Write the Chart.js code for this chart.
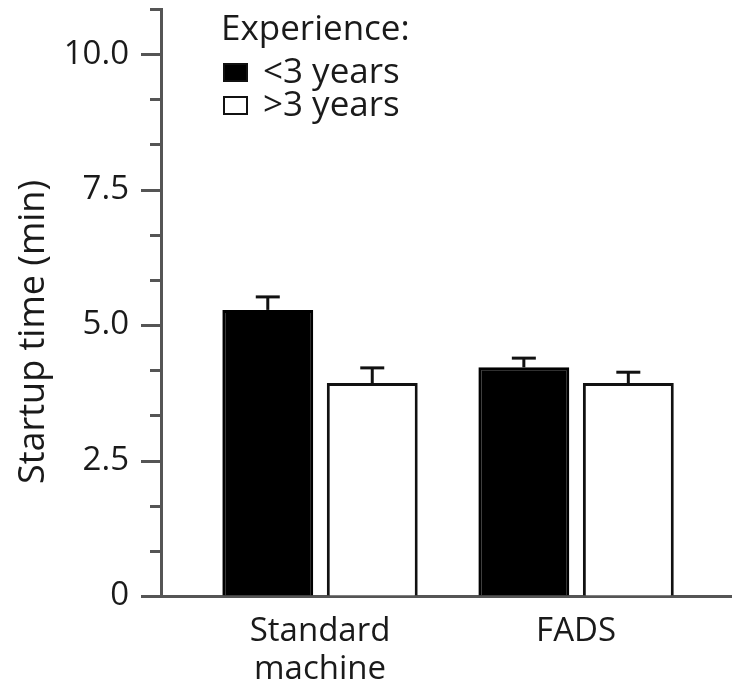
<!DOCTYPE html>
<html>
<head>
<meta charset="utf-8">
<script src="https://cdn.jsdelivr.net/npm/chart.js@4.4.1/dist/chart.umd.min.js"></script>
<style>
  body { margin: 0; background: #fff; }
  #wrap { width: 733px; height: 688px; }
</style>
</head>
<body>
<div id="wrap"><canvas id="myChart"></canvas></div>
<script>
// data
const categories = [["Standard", "machine"], ["FADS"]];
const groupPos = [0, 1];
const seriesNames = ["<3 years", ">3 years"];
const lessThan3 = [5.28, 4.22];
const lessThan3Err = [0.24, 0.17];
const moreThan3 = [3.93, 3.93];
const moreThan3Err = [0.28, 0.2];
const yTickValues = [0, 0.8333, 1.6667, 2.5, 3.3333, 4.1667, 5, 5.8333, 6.6667, 7.5, 8.3333, 9.1667, 10, 10.8333];
const yTickLabels = ["0", "", "", "2.5", "", "", "5.0", "", "", "7.5", "", "", "10.0", ""];
const yTitle = "Startup time (min)";
const legendTitle = "Experience:";

const FONT = "'Open Sans', sans-serif";
const INK = "#1a1a1a";
const AXIS = "#555";

//error bars, axis ticks, y title and legend
const extras = {
  id: "extras",
  afterDatasetsDraw(chart, args, opts) {
    let c = chart.ctx;
    let ys = chart.scales.y;
    let errs = [lessThan3Err, moreThan3Err];
    c.save();
    c.strokeStyle = "#111";
    chart.data.datasets.forEach((ds, di) => {
      let meta = chart.getDatasetMeta(di);
      meta.data.forEach((bar, i) => {
        let top = ys.getPixelForValue(ds.data[i].y + errs[di][i]);
        c.lineWidth = 3;
        c.beginPath();
        c.moveTo(bar.x, bar.y);
        c.lineTo(bar.x, top);
        c.stroke();
        c.beginPath();
        c.moveTo(bar.x - 12, top);
        c.lineTo(bar.x + 12, top);
        c.stroke();
      });
    });
    c.restore();
  },
  afterDraw(chart) {
    let c = chart.ctx;
    let ys = chart.scales.y;
    let left = chart.chartArea.left;
    c.save();
    // y ticks, long on labelled ones
    c.strokeStyle = AXIS;
    c.lineWidth = 3;
    yTickValues.forEach((v, i) => {
      let py = Math.round(ys.getPixelForValue(v)) + 0.5;
      let len = yTickLabels[i] ? 20 : 11;
      c.beginPath();
      c.moveTo(left - len, py);
      c.lineTo(left, py);
      c.stroke();
    });
    // y title
    c.fillStyle = INK;
    c.font = "36px " + FONT;
    c.translate(34, 332);
    c.rotate(-Math.PI / 2);
    c.textAlign = "center";
    c.textBaseline = "middle";
    c.fillText(yTitle, 0, 0);
    c.restore();

    // legend
    c.save();
    c.fillStyle = INK;
    c.font = "35px " + FONT;
    c.textBaseline = "alphabetic";
    c.fillText(legendTitle, 221, 40);
    let rows = [83, 116];
    chart.data.datasets.forEach((ds, di) => {
      let by = rows[di];
      c.fillStyle = ds.backgroundColor;
      c.fillRect(223, by - 20, 25, 19);
      c.strokeStyle = "#111";
      c.lineWidth = 2;
      c.strokeRect(224, by - 19, 23, 17);
      c.fillStyle = INK;
      c.fillText(seriesNames[di], 263, by);
    });
    c.restore();
  },
};

const ctx = document.getElementById("myChart");

new Chart(ctx, {
  type: "bar",
  data: {
    datasets: [
      {
        label: seriesNames[0],
        data: groupPos.map((x, i) => ({ x: x, y: lessThan3[i] })),
        backgroundColor: "#000",
        borderColor: "#000",
        borderWidth: 3,
      },
      {
        label: seriesNames[1],
        data: groupPos.map((x, i) => ({ x: x, y: moreThan3[i] })),
        backgroundColor: "#fff",
        borderColor: "#111",
        borderWidth: 3,
      },
    ],
  },
  options: {
    responsive: true,
    maintainAspectRatio: false,
    animation: false,
    categoryPercentage: 0.816,
    barPercentage: 0.87,
    layout: { padding: { top: 9, right: 2, left: 0, bottom: 0 } },
    plugins: {
      legend: { display: false },
      tooltip: { enabled: false },
    },
    scales: {
      x: {
        type: "linear",
        min: -0.621,
        max: 1.605,
        offset: false,
        afterBuildTicks: (s) => {
          s.ticks = groupPos.map((v) => ({ value: v }));
        },
        afterFit: (s) => {
          s.height = 92;
          s.paddingLeft = 0;
          s.paddingRight = 0;
        },
        ticks: {
          callback: (v, i) => categories[i],
          color: INK,
          font: { family: FONT, size: 33, lineHeight: 1.16 },
          padding: 8,
          maxRotation: 0,
          autoSkip: false,
        },
        grid: { display: false },
        border: { display: true, color: AXIS, width: 3 },
      },
      y: {
        min: 0,
        max: 10.8333,
        afterBuildTicks: (s) => {
          s.ticks = yTickValues.map((v) => ({ value: v }));
        },
        afterFit: (s) => {
          s.width = 161;
          s.paddingTop = 0;
          s.paddingBottom = 0;
        },
        ticks: {
          callback: (v, i) => yTickLabels[i],
          color: INK,
          font: { family: FONT, size: 33 },
          padding: 12,
          autoSkip: false,
        },
        grid: {
          display: true,
          drawOnChartArea: false,
          drawTicks: true,
          tickLength: 20,
          color: "rgba(0,0,0,0)",
        },
        border: { display: true, color: AXIS, width: 3 },
      },
    },
  },
  plugins: [extras],
});
</script>
</body>
</html>
